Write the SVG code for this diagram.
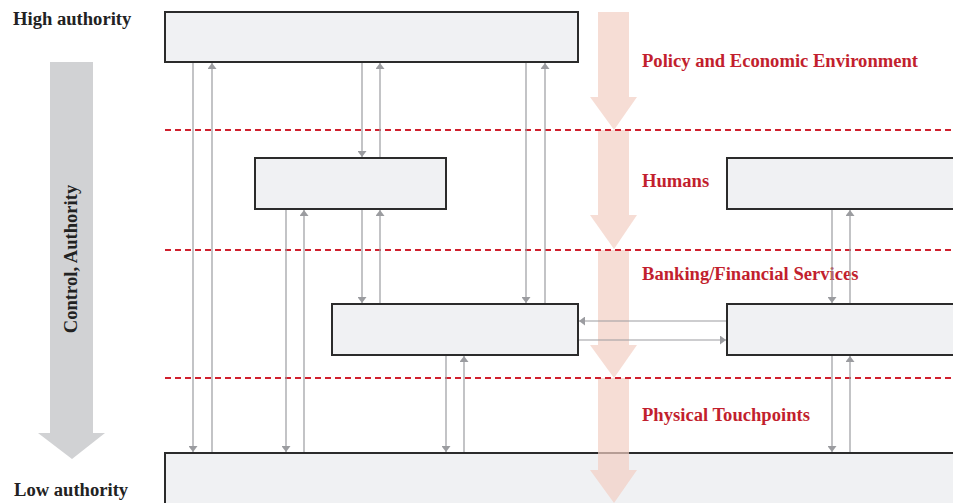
<svg xmlns="http://www.w3.org/2000/svg" width="953" height="503" viewBox="0 0 953 503">
<style>
.box{fill:#f0f1f3;stroke:#2b2b2b;stroke-width:2}
.lbl{font-family:"Liberation Serif","Times New Roman",serif;font-weight:bold;font-size:18.6px;fill:#222}
.red{font-family:"Liberation Serif","Times New Roman",serif;font-weight:bold;font-size:18.6px;fill:#c21f2e}
.dash{stroke:#d0202e;stroke-width:2;stroke-dasharray:6 4;fill:none}
.c{stroke:#9b9ca0;stroke-width:1.2;fill:none}
.flow{fill:#f2cfc3;opacity:0.7}
</style>
<defs>
<marker id="ah" viewBox="0 0 10 10" refX="10" refY="5" markerWidth="6" markerHeight="9" markerUnits="userSpaceOnUse" orient="auto" preserveAspectRatio="none">
<path d="M0,0 L10,5 L0,10 z" fill="#9b9ca0"/>
</marker>
</defs>
<!-- left grey arrow -->
<g id="authority-arrow">
<path d="M50,62 H93 V433 H105 L72,459 L38,433 H50 Z" fill="#d1d2d4"/>
<text class="lbl" transform="translate(77,259) rotate(-90)" text-anchor="middle">Control, Authority</text>
</g>
<text class="lbl" x="13" y="25">High authority</text>
<text class="lbl" x="14" y="496">Low authority</text>
<!-- bottom box -->
<g id="physical-box"><rect class="box" x="165" y="453" width="800" height="52"/></g>
<!-- salmon flow arrows -->
<g id="flow-arrows">
<path class="flow" d="M598,12 H629 V97 H637 L614,130 L590,97 H598 Z"/>
<path class="flow" d="M598,130 H629 V215 H637 L614,249 L590,215 H598 Z"/>
<path class="flow" d="M598,250 H629 V345 H637 L614,378 L590,345 H598 Z"/>
<path class="flow" d="M598,378 H629 V470 H637 L614,503 L590,470 H598 Z"/>
</g>
<!-- layer separators -->
<g id="separators">
<line class="dash" x1="165" y1="130" x2="953" y2="130"/>
<line class="dash" x1="165" y1="250" x2="953" y2="250"/>
<line class="dash" x1="165" y1="378" x2="953" y2="378"/>
</g>
<text class="red" x="642" y="67">Policy and Economic Environment</text>
<text class="red" x="642" y="187">Humans</text>
<text class="red" x="642" y="280">Banking/Financial Services</text>
<text class="red" x="642" y="421">Physical Touchpoints</text>
<!-- connectors -->
<g id="connectors">
<line class="c" x1="193" y1="63" x2="193" y2="452" marker-end="url(#ah)"/>
<line class="c" x1="212" y1="452" x2="212" y2="63" marker-end="url(#ah)"/>
<line class="c" x1="362" y1="63" x2="362" y2="157" marker-end="url(#ah)"/>
<line class="c" x1="380" y1="157" x2="380" y2="63" marker-end="url(#ah)"/>
<line class="c" x1="526" y1="63" x2="526" y2="303" marker-end="url(#ah)"/>
<line class="c" x1="545" y1="303" x2="545" y2="63" marker-end="url(#ah)"/>
<line class="c" x1="286" y1="210" x2="286" y2="452" marker-end="url(#ah)"/>
<line class="c" x1="304" y1="452" x2="304" y2="210" marker-end="url(#ah)"/>
<line class="c" x1="362" y1="210" x2="362" y2="303" marker-end="url(#ah)"/>
<line class="c" x1="380" y1="303" x2="380" y2="210" marker-end="url(#ah)"/>
<line class="c" x1="446" y1="356" x2="446" y2="452" marker-end="url(#ah)"/>
<line class="c" x1="464" y1="452" x2="464" y2="356" marker-end="url(#ah)"/>
<line class="c" x1="832" y1="210" x2="832" y2="303" marker-end="url(#ah)"/>
<line class="c" x1="850" y1="303" x2="850" y2="210" marker-end="url(#ah)"/>
<line class="c" x1="832" y1="356" x2="832" y2="452" marker-end="url(#ah)"/>
<line class="c" x1="850" y1="452" x2="850" y2="356" marker-end="url(#ah)"/>
<line class="c" x1="727" y1="321" x2="579" y2="321" marker-end="url(#ah)"/>
<line class="c" x1="578" y1="340" x2="726" y2="340" marker-end="url(#ah)"/>
</g>
<!-- nodes -->
<g id="policy-box"><rect class="box" x="165" y="12" width="413" height="50"/></g>
<g id="humans-box"><rect class="box" x="255" y="158" width="191" height="51"/></g>
<g id="humans-box-right"><rect class="box" x="727" y="158" width="240" height="51"/></g>
<g id="banking-box"><rect class="box" x="332" y="304" width="246" height="51"/></g>
<g id="banking-box-right"><rect class="box" x="727" y="304" width="240" height="51"/></g>
</svg>
